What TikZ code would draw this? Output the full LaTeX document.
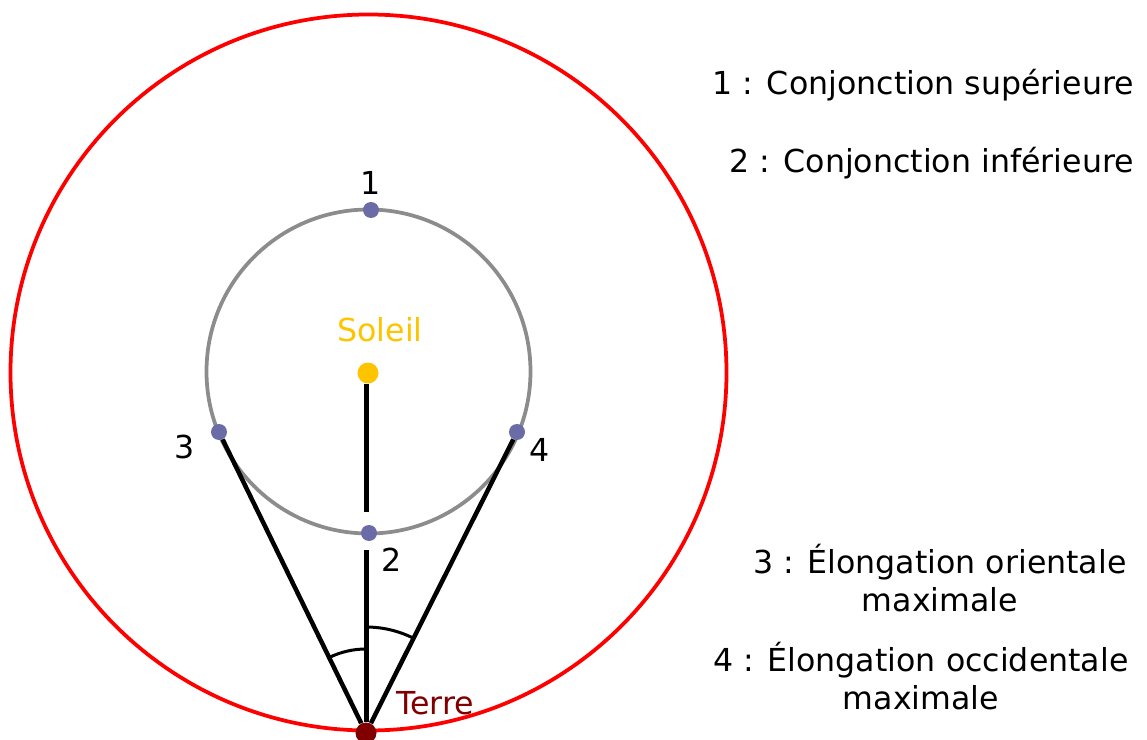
\documentclass[tikz,border=0pt]{standalone}
\usepackage{fontspec}
\setmainfont{DejaVu Sans}
\usetikzlibrary{calc}

\definecolor{planetblue}{HTML}{6B6BA8}
\definecolor{orbitgray}{HTML}{8C8C8C}
\definecolor{sungold}{HTML}{FFC400}
\definecolor{earthred}{HTML}{800000}

\begin{document}
\begin{tikzpicture}[x=0.02cm, y=-0.02cm,
  every node/.style={font=\fontsize{18}{22}\selectfont},
  planet/.style={circle, fill=planetblue, inner sep=0pt, minimum size=0.32cm},
  orbit/.style={line width=0.075cm},
  sight/.style={line width=0.09cm, black},
  anglemark/.style={line width=0.06cm, black}]

\useasboundingbox (0,0) rectangle (1147,740);

\draw[orbit, red] (368.5,372.5) circle (358);
\draw[orbit, orbitgray] (368.5,371.5) circle (162);

\node[circle, fill=sungold, inner sep=0pt, minimum width=0.38cm, minimum height=0.42cm] (S) at (368,373) {};
\node[circle, fill=earthred, inner sep=0pt, minimum size=0.42cm] (T) at (366,733) {};
\node[planet] (p1) at (371,210) {};
\node[planet] (p2) at (369,533) {};
\node[planet] (p3) at (219,432) {};
\node[planet] (p4) at (517,432) {};

\coordinate (gaptop) at (366.5,512);
\coordinate (gapbot) at (366.5,550);

\draw[sight] (S.south -| gaptop) -- (gaptop);
\draw[sight] (gapbot) -- (T.north -| gapbot);
\draw[sight] (T) -- (p3);
\draw[sight] (T) -- (p4);

\draw[anglemark] ($(T)+(-116:84)$) arc[start angle=-116, end angle=-90, radius=84];
\draw[anglemark] ($(T)+(-90:106)$) arc[start angle=-90, end angle=-63, radius=106];

\node[text=sungold] (soleil) at (380,330) {Soleil};
\node[text=earthred] (terre) at (435,703) {Terre};

\node (n1) at (371,183) {1};
\node (n2) at (392,560) {2};
\node (n3) at (185,447) {3};
\node (n4) at (540,450) {4};

\node[anchor=east] (leg1) at (1140,85) {1 : Conjonction supérieure};
\node[anchor=east] (leg2) at (1140,163) {2 : Conjonction inférieure};
\node[align=center] (leg3) at (940,578) {3 : Élongation orientale\\maximale};
\node[align=center] (leg4) at (921,676) {4 : Élongation occidentale\\maximale};

\end{tikzpicture}
\end{document}
